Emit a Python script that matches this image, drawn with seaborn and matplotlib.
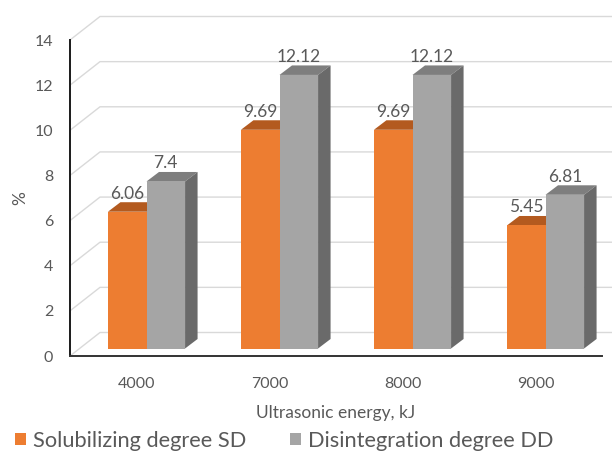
import matplotlib
matplotlib.use("Agg")
import matplotlib.pyplot as plt
from matplotlib.patches import Polygon, Patch
import seaborn as sns
import pandas as pd

# Data
energies = ["4000", "7000", "8000", "9000"]
series_names = ["Solubilizing degree SD", "Disintegration degree DD"]
sd_values = [6.06, 9.69, 9.69, 5.45]
dd_values = [7.4, 12.12, 12.12, 6.81]
y_ticks = [0, 2, 4, 6, 8, 10, 12, 14]

df = pd.DataFrame({
    "energy": energies * 2,
    "series": [series_names[0]] * 4 + [series_names[1]] * 4,
    "value": sd_values + dd_values,
})

# Colours: front, top, side faces
front_cols = ["#ED7D31", "#A5A5A5"]
top_cols = ["#B35A1F", "#7E7E7E"]
side_cols = ["#9A4A18", "#6A6A6A"]
text_col = "#595959"
grid_col = "#D9D9D9"

sns.set_theme(style="white")
plt.rcParams["font.family"] = ["Lato", "DejaVu Sans"]

W, H, DPI = 612, 454, 100
fig = plt.figure(figsize=(W / DPI, H / DPI), dpi=DPI)

# front plane of the plot area in pixels
ax_l, ax_r, ax_b, ax_t = 70, 602, 356, 40
ax = fig.add_axes([ax_l / W, (H - ax_b) / H, (ax_r - ax_l) / W, (ax_b - ax_t) / H])

sns.barplot(data=df, x="energy", y="value", hue="series", palette=front_cols,
            width=0.58, saturation=1, ax=ax, legend=False, zorder=3)
ax.set_xlim(-0.5, 3.5)
ax.set_ylim(0, 14)

# pixel -> data conversions for the oblique depth
ux = (ax_r - ax_l) / 4.0
uy = (ax_b - ax_t) / 14.0
def dxp(px):
    return px / ux
def dyp(py):
    return py / uy

wall_dx, wall_dy = dxp(30), dyp(23.5)      # full depth of the walls
bar_dx, bar_dy = dxp(10), dyp(7.5)         # where the bar fronts sit
deep_dx, deep_dy = dxp(12.5), dyp(9.5)     # depth of each bar

# back wall + side wall gridlines
for t in y_ticks:
    ax.plot([-0.5, -0.5 + wall_dx, 3.5 + wall_dx + 1], [t, t + wall_dy, t + wall_dy],
            color=grid_col, lw=1.0, zorder=1, clip_on=False, solid_capstyle="butt")

# extrude the bars
for i, cont in enumerate(ax.containers):
    for rect in cont:
        x0 = rect.get_x() + bar_dx
        w = rect.get_width()
        h = rect.get_height()
        rect.set_x(x0)
        rect.set_y(bar_dy)
        rect.set_edgecolor("none")
        rect.set_zorder(3)
        ytop = h + bar_dy
        top = Polygon([(x0, ytop), (x0 + w, ytop), (x0 + w + deep_dx, ytop + deep_dy),
                       (x0 + deep_dx, ytop + deep_dy)], closed=True,
                      facecolor=top_cols[i], edgecolor="none", zorder=2, clip_on=False)
        side = Polygon([(x0 + w, bar_dy), (x0 + w + deep_dx, bar_dy + deep_dy),
                        (x0 + w + deep_dx, ytop + deep_dy), (x0 + w, ytop)], closed=True,
                       facecolor=side_cols[i], edgecolor="none", zorder=2, clip_on=False)
        ax.add_patch(top)
        ax.add_patch(side)
        label = f"{h:g}"
        ax.annotate(label, (x0 + w / 2, ytop), xytext=(0, 18 * 72 / DPI),
                    textcoords="offset points", ha="center", va="center",
                    fontsize=12.5, color=text_col, zorder=5, annotation_clip=False)

# axes styling
for s in ["top", "right"]:
    ax.spines[s].set_visible(False)
ax.spines["left"].set_color("#1a1a1a")
ax.spines["left"].set_linewidth(1.4)
ax.spines["bottom"].set_color("#333333")
ax.spines["bottom"].set_linewidth(1.4)
ax.set_yticks(y_ticks)
ax.tick_params(axis="y", length=0, pad=12, labelsize=11.5, labelcolor=text_col)
ax.tick_params(axis="x", length=0, pad=15, labelsize=11.5, labelcolor=text_col)
ax.set_facecolor("none")
ax.grid(False)

ax.set_xlabel("Ultrasonic energy, kJ", fontsize=12.5, color=text_col, labelpad=10)
ax.set_ylabel("%", fontsize=12.5, color=text_col, labelpad=5)

handles = [Patch(facecolor=c, edgecolor="none") for c in front_cols]
fig.legend(handles, series_names, loc="center left", bbox_to_anchor=(15 / W, (H - 441) / H),
           ncol=2, frameon=False, fontsize=15.7, labelcolor=text_col,
           borderaxespad=0, borderpad=0,
           handlelength=0.5, handleheight=0.5, handletextpad=0.32, columnspacing=2.0)

fig.savefig("out.png", dpi=DPI, facecolor="white")
